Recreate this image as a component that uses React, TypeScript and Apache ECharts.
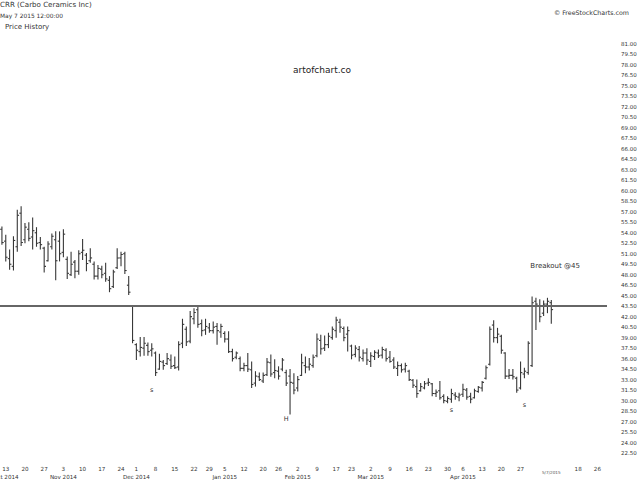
import React, { useEffect, useRef } from "react";
import * as echarts from "echarts";

// ---- calendar ----
const startDate = "2014-10-10";
const endDate = "2015-05-28";
const marketHolidays = ["2014-11-27", "2014-12-25", "2015-01-01", "2015-01-19", "2015-02-16", "2015-04-03", "2015-05-25"];

// ---- x-axis labels ----
const tickDates = [
  "2014-10-13", "2014-10-20", "2014-10-27", "2014-11-03", "2014-11-10", "2014-11-17", "2014-11-24",
  "2014-12-01", "2014-12-08", "2014-12-15", "2014-12-22", "2014-12-29", "2015-01-05", "2015-01-12",
  "2015-01-20", "2015-01-26", "2015-02-02", "2015-02-09", "2015-02-17", "2015-02-23", "2015-03-02",
  "2015-03-09", "2015-03-16", "2015-03-23", "2015-03-30", "2015-04-06", "2015-04-13", "2015-04-20",
  "2015-04-27", "2015-05-07", "2015-05-18", "2015-05-26",
];
const monthTickDates = ["2014-10-13", "2014-11-03", "2014-12-01", "2015-01-05", "2015-02-02", "2015-03-02", "2015-04-06"];
const monthTickTexts = ["Oct 2014", "Nov 2014", "Dec 2014", "Jan 2015", "Feb 2015", "Mar 2015", "Apr 2015"];
const currentDate = "2015-05-07";
const currentDateText = "5/7/2015";

// ---- OHLC (trading days from 2014-10-10 to 2015-05-07) ----
const opens = [
  54.5, 52.8, 50.3, 49.2, 52.0, 56.8, 53.0, 54.5, 53.4, 54.0,
  52.6, 51.8, 50.0, 52.0, 53.0, 52.8, 51.2, 50.2, 48.0, 49.8,
  48.5, 51.2, 50.8, 50.0, 49.5, 47.8, 48.8, 48.2, 47.2, 46.3,
  49.0, 50.4, 51.0, 46.5, 43.5, 38.0, 37.0, 37.5, 37.9, 37.2,
  36.8, 34.5, 35.5, 35.3, 35.8, 35.0, 34.8, 38.2, 40.2, 38.5,
  41.7, 43.0, 41.0, 40.1, 40.4, 40.0, 40.6, 39.8, 39.6, 38.8,
  37.0, 36.2, 36.0, 34.6, 35.0, 34.4, 32.5, 33.4, 32.8, 33.7,
  35.4, 34.0, 34.2, 34.5, 34.0, 33.5, 32.5, 31.8, 33.6, 35.0,
  34.8, 35.0, 36.4, 38.6, 37.5, 38.0, 39.0, 40.0, 41.2, 40.3,
  39.5, 37.8, 36.6, 37.3, 36.0, 36.8, 35.6, 36.3, 36.8, 36.5,
  37.2, 36.2, 35.8, 34.6, 35.0, 34.5, 34.2, 32.9, 32.0, 31.4,
  31.8, 32.5, 32.4, 31.0, 31.4, 30.6, 29.9, 30.2, 30.8, 30.5,
  30.9, 31.5, 30.6, 30.4, 31.3, 31.8, 33.2, 35.2, 40.8, 39.0,
  39.2, 36.8, 33.5, 33.6, 33.2, 31.8, 33.8, 34.0, 35.0, 44.2,
  43.5, 42.5, 43.8, 44.0,
];
const highs = [
  54.9, 53.7, 51.6, 53.5, 57.3, 57.8, 55.4, 55.5, 56.2, 54.8,
  53.4, 52.0, 52.8, 53.9, 54.2, 54.2, 54.5, 50.6, 51.3, 50.1,
  51.5, 53.1, 51.1, 51.8, 49.9, 49.4, 49.3, 49.7, 47.8, 48.7,
  51.8, 51.3, 51.3, 47.8, 43.6, 38.2, 39.1, 39.1, 38.3, 38.2,
  37.0, 36.7, 35.8, 36.8, 36.6, 36.3, 38.5, 41.7, 40.6, 42.8,
  43.2, 43.6, 41.6, 41.7, 41.1, 41.3, 41.1, 41.0, 39.9, 39.9,
  37.4, 37.0, 36.3, 35.4, 36.8, 35.6, 34.2, 34.0, 34.0, 36.1,
  36.6, 35.9, 34.9, 36.1, 34.4, 34.5, 33.9, 33.5, 36.7, 36.3,
  36.1, 36.6, 39.6, 39.4, 39.3, 39.7, 40.6, 42.0, 41.7, 40.6,
  40.6, 38.0, 37.9, 37.8, 37.3, 37.5, 36.9, 37.2, 37.3, 37.7,
  37.5, 37.1, 36.2, 35.6, 35.3, 35.4, 34.4, 33.1, 33.0, 32.5,
  32.8, 33.2, 32.5, 31.6, 32.8, 30.9, 30.6, 31.7, 31.2, 31.1,
  32.4, 31.8, 31.1, 31.7, 32.1, 32.8, 35.0, 40.6, 41.5, 40.4,
  39.4, 36.9, 34.5, 34.5, 33.4, 35.6, 34.7, 38.5, 44.9, 44.7,
  44.5, 44.3, 44.7, 44.4,
];
const lows = [
  52.3, 49.9, 48.7, 48.6, 51.3, 52.1, 52.5, 52.8, 51.6, 52.0,
  51.6, 48.3, 49.9, 51.6, 47.2, 49.9, 50.5, 47.4, 47.8, 47.5,
  48.0, 50.1, 48.5, 49.7, 47.3, 47.3, 47.5, 47.0, 45.5, 46.1,
  48.8, 49.2, 48.1, 45.1, 38.2, 35.8, 36.3, 36.4, 36.4, 36.3,
  33.5, 34.4, 34.4, 35.1, 34.5, 34.5, 34.3, 37.5, 37.8, 38.2,
  40.9, 40.4, 39.2, 39.4, 39.7, 39.6, 38.0, 39.0, 38.3, 36.8,
  35.6, 35.9, 34.2, 34.2, 34.1, 31.8, 32.0, 32.8, 32.5, 33.5,
  33.4, 33.2, 33.0, 34.2, 32.1, 28.0, 30.9, 31.3, 33.5, 33.9,
  34.3, 34.7, 36.2, 36.6, 37.1, 37.5, 38.7, 39.0, 39.7, 38.5,
  37.0, 35.9, 36.2, 35.6, 35.6, 35.1, 34.8, 35.8, 36.1, 36.0,
  35.6, 35.4, 34.5, 33.5, 34.0, 34.0, 32.8, 31.8, 30.4, 31.3,
  31.6, 32.1, 30.6, 30.5, 30.1, 29.6, 29.6, 29.7, 30.1, 29.9,
  30.5, 30.1, 29.6, 30.3, 31.1, 31.3, 33.0, 35.0, 38.3, 38.2,
  36.7, 33.1, 33.1, 33.0, 31.1, 31.6, 33.2, 33.7, 34.8, 40.1,
  41.2, 42.1, 42.5, 41.0,
];
const closes = [
  52.6, 50.5, 49.5, 52.9, 56.5, 52.6, 54.8, 53.2, 54.3, 52.5,
  52.3, 49.2, 52.4, 53.5, 50.0, 51.0, 53.8, 48.2, 49.5, 48.5,
  51.0, 51.5, 49.6, 50.4, 47.8, 48.9, 48.0, 47.4, 46.0, 48.4,
  50.4, 50.9, 48.6, 45.5, 38.6, 37.2, 37.6, 38.2, 37.0, 37.4,
  34.0, 35.6, 35.0, 36.0, 34.9, 34.7, 38.0, 40.9, 38.4, 42.0,
  42.6, 40.9, 40.0, 40.6, 40.0, 40.5, 40.0, 40.6, 38.8, 37.0,
  36.0, 36.8, 34.6, 35.0, 34.5, 32.3, 33.5, 33.0, 33.6, 35.5,
  33.8, 34.3, 33.5, 35.8, 32.5, 32.6, 31.5, 33.0, 35.4, 34.8,
  35.2, 36.2, 38.8, 37.4, 38.0, 39.2, 40.2, 41.5, 40.5, 39.0,
  40.0, 36.5, 37.5, 36.2, 36.8, 35.8, 36.4, 36.9, 36.4, 37.3,
  36.0, 35.6, 34.8, 35.0, 34.4, 35.0, 33.0, 32.2, 31.0, 32.0,
  32.4, 32.6, 31.0, 31.2, 30.4, 30.0, 30.3, 31.0, 30.6, 30.8,
  31.6, 30.5, 30.2, 31.4, 31.9, 32.6, 34.7, 40.2, 39.0, 39.5,
  37.2, 33.5, 33.6, 33.4, 31.5, 34.0, 34.2, 38.2, 44.0, 43.8,
  42.0, 43.8, 44.2, 43.01,
];

const resistanceLevel = 43.5;
const lastPrice = 43.01;

// ---- annotations: [date, price, text] ----
const noteDates = ["2014-12-05", "2015-01-28", "2015-03-31", "2015-04-28"];
const notePrices = [31.5, 27.3, 28.6, 29.3];
const noteTexts = ["s", "H", "s", "s"];
const breakoutDate = "2015-05-08";
const breakoutPrice = 49.2;
const breakoutText = "Breakout @45";

const FONT = "DejaVu Sans";
const INK = "#333";

function buildDates(): string[] {
  const out: string[] = [];
  const d = new Date(startDate + "T00:00:00Z");
  const end = new Date(endDate + "T00:00:00Z");
  while (d <= end) {
    const day = d.getUTCDay();
    const s = d.toISOString().slice(0, 10);
    if (day !== 0 && day !== 6 && marketHolidays.indexOf(s) < 0) out.push(s);
    d.setUTCDate(d.getUTCDate() + 1);
  }
  return out;
}

export default function App() {
  const ref = useRef<HTMLDivElement>(null);
  useEffect(() => {
    if (!ref.current) return;
    const chart = echarts.init(ref.current, undefined, { renderer: "svg" });
    const dates = buildDates();
    const ohlc = opens.map((o, i) => [i, o, highs[i], lows[i], closes[i]]);

    const option: any = {
      animation: false,
      backgroundColor: "#fff",
      grid: { left: 0, right: 33, top: 44, bottom: 27, containLabel: false, outerBoundsMode: "none" },
      xAxis: {
        type: "category",
        data: dates,
        boundaryGap: true,
        axisLine: { show: false },
        axisTick: { show: false },
        splitLine: { show: false },
        axisLabel: {
          interval: (idx: number, val: string) => tickDates.indexOf(val) >= 0,
          formatter: (val: string) => {
            if (val === currentDate) return "{cur|" + currentDateText + "}";
            const day = String(parseInt(val.slice(8, 10), 10));
            const m = monthTickDates.indexOf(val);
            return m >= 0 ? day + "\n" + monthTickTexts[m] : day;
          },
          color: INK,
          fontFamily: FONT,
          fontSize: 5.6,
          lineHeight: 8,
          margin: 12,
          rich: {
            cur: { fontSize: 4.2, color: "#555", fontFamily: FONT, padding: [6, 0, 0, 0] },
          },
        },
      },
      yAxis: {
        type: "value",
        position: "right",
        min: 22.5,
        max: 81,
        interval: 1.5,
        axisLine: { show: false },
        axisTick: { show: false },
        splitLine: { show: false },
        axisLabel: {
          formatter: (v: number) => v.toFixed(2),
          color: INK,
          fontFamily: FONT,
          fontSize: 5.5,
          margin: 14,
        },
      },
      graphic: [
        { type: "text", x: 0, y: 1, style: { text: "CRR (Carbo Ceramics Inc)", fontSize: 7.1, fontFamily: FONT, fill: INK } },
        { type: "text", x: 0, y: 13, style: { text: "May 7 2015 12:00:00", fontSize: 5.9, fontFamily: FONT, fill: INK } },
        { type: "text", x: 5, y: 23, style: { text: "Price History", fontSize: 7, fontFamily: FONT, fill: INK } },
        { type: "text", x: 629, y: 12, style: { text: "© FreeStockCharts.com", fontSize: 6.3, fontFamily: FONT, fill: INK, align: "right", verticalAlign: "middle" } },
        { type: "text", x: 322, y: 70, style: { text: "artofchart.co", fontSize: 9, fontFamily: FONT, fill: "#222", align: "center", verticalAlign: "middle" } },
      ],
      series: [
        {
          type: "custom",
          data: ohlc,
          encode: { x: 0, y: [1, 2, 3, 4] },
          renderItem: (params: any, api: any) => {
            const i = api.value(0);
            const hi = api.coord([i, api.value(2)]);
            const lo = api.coord([i, api.value(3)]);
            const op = api.coord([i, api.value(1)]);
            const cl = api.coord([i, api.value(4)]);
            const style = { stroke: "#383838", lineWidth: 1.1 };
            return {
              type: "group",
              children: [
                { type: "line", shape: { x1: hi[0], y1: hi[1], x2: lo[0], y2: lo[1] }, style },
                { type: "line", shape: { x1: op[0] - 1.8, y1: op[1], x2: op[0], y2: op[1] }, style },
                { type: "line", shape: { x1: cl[0], y1: cl[1], x2: cl[0] + 1.8, y2: cl[1] }, style },
              ],
            };
          },
          markLine: {
            silent: true,
            symbol: "none",
            data: [
              { yAxis: resistanceLevel, lineStyle: { color: "#666", width: 2, type: "solid" }, label: { show: false } },
              {
                yAxis: lastPrice,
                lineStyle: { opacity: 0, width: 0 },
                label: {
                  show: true,
                  position: "end",
                  distance: 12,
                  formatter: lastPrice.toFixed(2),
                  color: INK,
                  fontFamily: FONT,
                  fontSize: 5.5,
                  borderColor: "#333",
                  borderWidth: 1,
                  borderRadius: 1,
                  backgroundColor: "#fff",
                  padding: [1, 1, 1, 1],
                },
              },
            ],
          },
          markPoint: {
            silent: true,
            symbol: "rect",
            symbolSize: 1,
            itemStyle: { color: "transparent" },
            label: { show: true, position: "inside", color: INK, fontFamily: FONT, fontSize: 6.5 },
            data: [
              ...noteDates.map((d, k) => ({ coord: [d, notePrices[k]], label: { formatter: noteTexts[k] } })),
              { coord: [breakoutDate, breakoutPrice], label: { formatter: breakoutText, fontSize: 7 } },
            ],
          },
        },
      ],
    };
    chart.setOption(option);
    return () => chart.dispose();
  }, []);
  return <div ref={ref} style={{ position: "fixed", left: 0, top: 0, width: 640, height: 480 }} />;
}
